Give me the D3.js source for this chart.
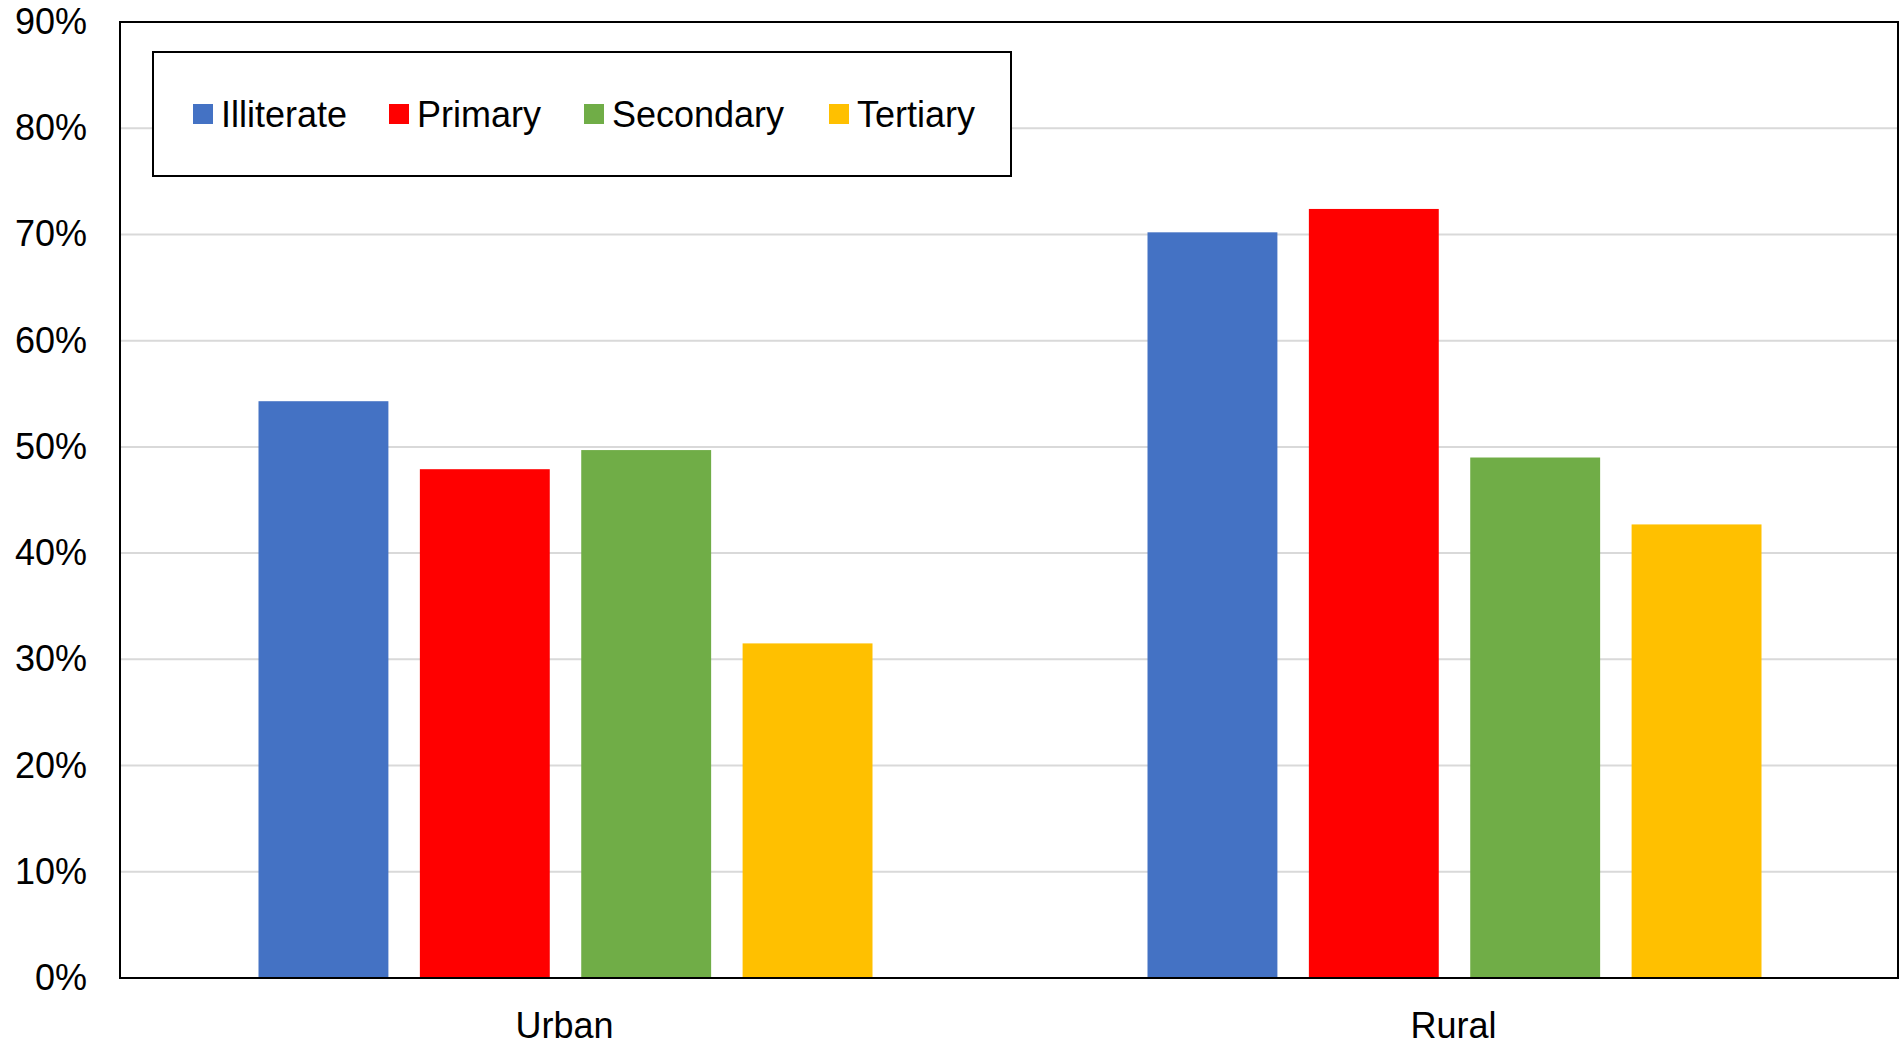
<!DOCTYPE html>
<html>
<head>
<meta charset="utf-8">
<script src="https://cdn.jsdelivr.net/npm/d3@7"></script>
<style>
  body { margin: 0; background: #fff; }
  text { font-family: "Liberation Sans", Arial, sans-serif; }
</style>
</head>
<body>
<div id="chart"></div>
<script>
var categories = ["Urban", "Rural"];
var series = ["Illiterate", "Primary", "Secondary", "Tertiary"];
var colors = ["#4472C4", "#FF0000", "#70AD47", "#FFC000"];
var illiterate = [54.3, 70.2];
var primary = [47.9, 72.4];
var secondary = [49.7, 49.0];
var tertiary = [31.5, 42.7];
var yTicks = [0, 10, 20, 30, 40, 50, 60, 70, 80, 90];

var values = [illiterate, primary, secondary, tertiary];

var W = 1901, H = 1041;
var margin = {top: 22, right: 3, bottom: 63, left: 120};
var width = W - margin.left - margin.right;
var height = H - margin.top - margin.bottom;

var svg = d3.select("#chart")
    .append("svg")
    .attr("width", W)
    .attr("height", H);

var graph = svg.append("g")
    .attr("transform", "translate(" + margin.left + "," + margin.top + ")");

var y = d3.scaleLinear()
    .domain([0, 90])
    .range([height, 0]);

var x0 = d3.scaleBand()
    .domain(categories)
    .range([0, width]);

// bars take up the middle part of each category band
var groupPad = (x0.bandwidth() - 614) / 2;
var x1 = d3.scaleBand()
    .domain(series)
    .range([groupPad + 1, x0.bandwidth() - groupPad + 1])
    .paddingInner(0.195);

// gridlines
graph.append("g")
    .selectAll("line")
    .data(yTicks.slice(1, -1))
    .enter()
    .append("line")
    .attr("x1", 0)
    .attr("x2", width)
    .attr("y1", function (d) { return y(d); })
    .attr("y2", function (d) { return y(d); })
    .attr("stroke", "#d9d9d9")
    .attr("stroke-width", 2);

// bars
var groups = graph.selectAll(".grp")
    .data(categories)
    .enter()
    .append("g")
    .attr("class", "grp")
    .attr("transform", function (d) { return "translate(" + x0(d) + ",0)"; });

groups.selectAll("rect")
    .data(function (d, ci) {
        return series.map(function (s, si) {
            return {s: s, v: values[si][ci], c: colors[si]};
        });
    })
    .enter()
    .append("rect")
    .attr("x", function (d) { return x1(d.s); })
    .attr("y", function (d) { return y(d.v); })
    .attr("width", x1.bandwidth())
    .attr("height", function (d) { return height - y(d.v); })
    .attr("fill", function (d) { return d.c; });

// plot border
graph.append("rect")
    .attr("x", 0)
    .attr("y", 0)
    .attr("width", width)
    .attr("height", height)
    .attr("fill", "none")
    .attr("stroke", "#000")
    .attr("stroke-width", 2);

// y axis labels
var yAxis = d3.axisLeft(y)
    .tickValues(yTicks)
    .tickSize(0)
    .tickPadding(33)
    .tickFormat(function (d) { return d + "%"; });
var yAxisGroup = graph.append("g").call(yAxis);
yAxisGroup.select(".domain").remove();
yAxisGroup.selectAll("text")
    .attr("font-size", "36px")
    .attr("font-family", "Liberation Sans, Arial, sans-serif")
    .attr("fill", "#000");

// x axis labels
var xAxis = d3.axisBottom(x0)
    .tickSize(0)
    .tickPadding(34);
var xAxisGroup = graph.append("g")
    .attr("transform", "translate(0," + height + ")")
    .call(xAxis);
xAxisGroup.select(".domain").remove();
xAxisGroup.selectAll("text")
    .attr("font-size", "36px")
    .attr("font-family", "Liberation Sans, Arial, sans-serif")
    .attr("fill", "#000");

// legend
var legend = svg.append("g")
    .attr("transform", "translate(153,52)");
legend.append("rect")
    .attr("width", 858)
    .attr("height", 124)
    .attr("fill", "#fff")
    .attr("stroke", "#000")
    .attr("stroke-width", 2);

var legendX = [40, 236, 431, 676];
var item = legend.selectAll(".item")
    .data(series)
    .enter()
    .append("g")
    .attr("class", "item")
    .attr("transform", function (d, i) { return "translate(" + legendX[i] + ",0)"; });
item.append("rect")
    .attr("x", 0)
    .attr("y", 52)
    .attr("width", 20)
    .attr("height", 20)
    .attr("fill", function (d, i) { return colors[i]; });
item.append("text")
    .attr("x", 28)
    .attr("y", 62)
    .attr("dy", "0.35em")
    .attr("font-size", "36px")
    .attr("fill", "#000")
    .text(function (d) { return d; });
</script>
</body>
</html>
